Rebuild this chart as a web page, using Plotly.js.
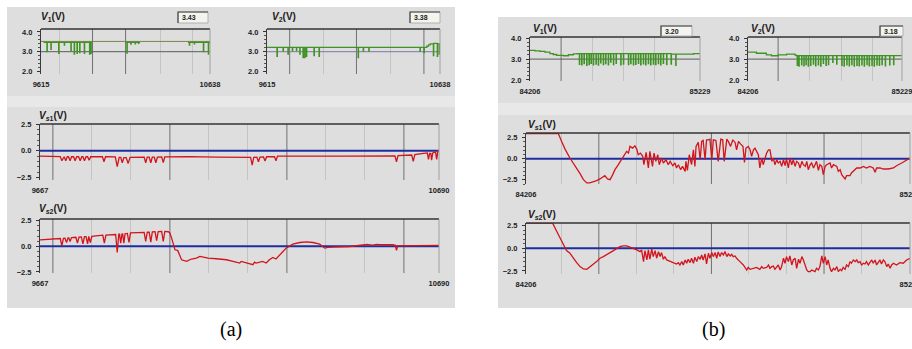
<!DOCTYPE html>
<html><head><meta charset="utf-8">
<script src="https://cdn.plot.ly/plotly-3.0.1.min.js"></script>
<style>html,body{margin:0;padding:0;background:#fff;}#chart{width:912px;height:349px;}</style>
</head><body><div id="chart"></div>
<script>
// ================= DATA =================
// axis end labels
const aTopTicks = [9615, 10638];
const aBigTicks = [9667, 10690];
const bTopTicks = [84206, 85229];
const bBigTicks = [84206, 85229];
const readouts = ['3.43', '3.38', '3.20', '3.18'];
const refLevel = [3.0, 3.0];
const v1aUpper = [3.52, 3.52];
const zeroLevel = [0, 0];

// (a) V1
const v1a_x = [9630,9651,9653,9675,9677,9722,9724,9756,9758,9796,9798,9816,9818,9833,9835,9849,9851,9877,9879,9909,9911,9917,9919,9925,9926,
  10125,10135,10137,10159,10161,10185,10187,10205,10207,10215,10216,
  10505,10513,10515,10543,10545,10598,10600,10628,10630,10638];
const v1a_y = [3.47,3.0,3.47,3.12,3.47,2.91,3.47,3.34,3.47,3.05,3.47,2.88,3.47,2.91,3.47,2.95,3.47,2.91,3.47,2.88,3.47,2.91,3.47,3.47,null,
  3.47,2.93,3.47,3.38,3.47,3.40,3.47,3.42,3.47,3.47,null,
  3.47,3.34,3.47,3.40,3.47,3.0,3.47,2.88,3.47,3.43];
// (a) V2
const v2a_x = [9615,9674,9676,9710,9712,9739,9741,9765,9767,9789,9791,9809,9811,9828,9830,9838,9840,9848,9850,9893,9895,9923,9925,
  10154,10156,10184,10186,10217,10219,10520,10522,10543,10545,10560,10570,10580,10599,10601,10622,10624,10634,10636,10638];
const v2a_y = [3.22,2.76,3.22,3.03,3.22,2.88,3.22,3.06,3.22,3.06,3.22,2.88,3.22,2.70,3.22,2.70,3.22,2.76,3.22,2.80,3.22,2.76,3.22,
  2.70,3.22,3.03,3.22,3.03,3.22,3.03,3.22,2.95,3.22,3.28,3.35,3.40,2.80,3.42,2.76,3.40,2.88,3.38,3.38];
// (a) Vs1
const vs1a_x = [9667,9690,9719,9723,9727,9729,9733,9737,9740,9744,9748,9753,9757,9761,9766,9770,9774,9777,9781,9785,9789,9793,9797,9827,9831,9835,
  9860,9865,9870,9874,9878,9882,9888,9893,9898,9934,9938,9942,9947,9951,9955,9960,9964,9968,9979,9983,9987,10050,10120,
  10207,10211,10215,10223,10227,10231,10240,10244,10248,10268,10272,10276,10350,10450,10577,10581,10585,10620,10624,10628,
  10650,10660,10663,10666,10669,10671,10674,10681,10684,10687,10690];
const vs1a_y = [-0.50,-0.52,-0.55,-0.94,-0.56,-0.56,-0.94,-0.56,-0.56,-0.94,-0.56,-0.56,-0.94,-0.56,-0.56,-0.94,-0.56,-0.56,-0.94,-0.56,-0.56,-0.90,-0.56,-0.55,-1.03,-0.56,
  -0.58,-1.50,-0.62,-0.62,-1.13,-0.64,-0.64,-1.19,-0.62,-0.60,-1.13,-0.60,-0.60,-1.13,-0.60,-0.60,-1.13,-0.60,-0.58,-1.10,-0.57,-0.55,-0.60,
  -0.62,-1.34,-0.62,-0.60,-1.03,-0.60,-0.58,-0.97,-0.56,-0.55,-0.94,-0.50,-0.52,-0.50,-0.48,-1.03,-0.45,-0.40,-1.00,-0.35,
  -0.25,-0.20,-0.81,-0.25,-0.25,-0.88,-0.20,-0.10,-0.81,-0.05,0.0];
// (a) Vs2
const vs2a_x = [9667,9700,9719,9723,9727,9731,9735,9739,9741,9744,9748,9759,9763,9767,9773,9777,9781,9785,9789,9792,9796,9800,9828,9832,9836,
  9861,9865,9869,9871,9874,9877,9879,9882,9885,9891,9895,9899,9934,9938,9942,9947,9951,9955,9962,9966,9970,9979,9983,9987,9996,
  10000,10006,10013,10020,10030,10043,10055,10068,10077,10089,10098,10119,10145,10162,10179,10183,10200,10213,10217,10221,10238,10247,
  10255,10264,10272,10281,10290,10298,10315,10333,10350,10367,10384,10397,10405,10418,10461,10500,10504,10520,10530,10538,10555,
  10572,10578,10581,10584,10589,10632,10690];
const vs2a_y = [0.63,0.70,0.76,0.05,0.78,0.80,0.37,0.82,0.82,0.47,0.85,0.88,0.31,0.90,0.92,0.24,0.94,0.95,0.24,0.96,0.37,0.98,1.08,0.31,1.10,
  1.15,-0.60,1.18,1.18,0.31,1.19,1.20,0.31,1.21,1.25,0.37,1.30,1.36,0.47,1.37,1.38,0.40,1.40,1.42,0.56,1.43,1.44,0.47,1.45,1.42,
  1.30,0.60,-0.34,-0.40,-1.31,-1.47,-1.24,-1.15,-0.98,-1.08,-1.15,-1.21,-1.31,-1.47,-1.63,-1.47,-1.63,-1.79,-1.55,-1.63,-1.47,-1.63,
  -1.31,-1.08,-1.24,-0.82,-0.50,-0.18,0.21,0.37,0.44,0.37,0.21,-0.18,-0.11,-0.08,-0.02,0.15,0.18,0.12,0.18,0.15,0.18,
  0.15,0.10,-0.40,0.05,0.05,0.05,0.10];

// (b) V1
const v1b_x = [84206,84236,84266,84296,84326,84346,84366,84407,84437,84467,84490,
  84503,84505,84517,84519,84531,84533,84547,84549,84561,84563,84573,84575,84587,84589,84603,84605,84617,84619,84631,84633,
  84647,84649,84661,84663,84677,84679,84691,84693,84708,84710,84724,84726,84752,84754,84768,84770,84798,84800,84812,84814,
  84828,84830,84842,84844,84858,84860,84872,84874,84888,84890,84902,84904,84918,84920,84932,84934,84948,84950,84962,84964,
  84978,84980,84992,84994,85008,85010,85028,85030,85055,85057,85083,85085,85149,85190,85229];
const v1b_y = [3.42,3.39,3.37,3.33,3.26,3.22,3.18,3.16,3.21,3.25,3.26,
  2.75,3.26,2.72,3.26,2.78,3.26,2.70,3.26,2.74,3.26,2.80,3.26,2.72,3.26,2.76,3.26,2.71,3.26,2.82,3.26,
  2.74,3.26,2.78,3.26,2.72,3.26,2.86,3.26,2.74,3.26,2.80,3.26,2.72,3.26,2.76,3.26,2.74,3.26,2.78,3.26,
  2.72,3.26,2.75,3.26,2.80,3.26,2.72,3.26,2.77,3.26,2.73,3.26,2.79,3.26,2.72,3.26,2.76,3.26,2.74,3.26,
  2.78,3.26,2.72,3.26,2.80,3.26,2.74,3.26,2.76,3.24,2.70,3.24,3.24,3.26,3.29];
// (b) V2
const v2b_x = [84206,84262,84328,84362,84406,84462,84517,84525,
  84533,84535,84544,84546,84562,84564,84577,84579,84591,84593,84606,84608,84622,84624,84640,84642,84655,84657,84673,84675,
  84689,84691,84706,84708,84724,84726,84740,84742,84769,84771,84795,84797,84829,84831,84844,84846,84862,84864,84878,84880,
  84895,84897,84911,84913,84929,84931,84944,84946,84962,84964,84978,84980,84996,84998,85011,85013,85029,85031,85044,85046,
  85062,85064,85078,85080,85096,85098,85118,85120,85147,85149,85173,85175,85196,85229];
const v2b_y = [3.33,3.28,3.20,3.16,3.20,3.24,3.20,3.17,
  2.70,3.17,2.66,3.17,2.72,3.17,2.68,3.17,2.74,3.17,2.66,3.17,2.70,3.17,2.76,3.17,2.68,3.17,2.72,3.17,
  2.66,3.17,2.80,3.17,2.70,3.17,2.74,3.17,2.84,3.17,2.76,3.17,2.70,3.17,2.66,3.17,2.72,3.17,2.68,3.17,
  2.74,3.17,2.66,3.17,2.70,3.17,2.68,3.17,2.72,3.17,2.66,3.17,2.74,3.17,2.68,3.17,2.70,3.17,2.66,3.17,
  2.72,3.17,2.70,3.17,2.74,3.17,2.68,3.17,2.72,3.17,2.74,3.17,3.17,3.20];
// (b) Vs1
const vs1b_x = [84206,84292,84301,84310,84323,84332,84341,84350,84359,84368,84376,84385,84394,84403,84412,84416,84423,84430,84437,84443,
  84452,84461,84467,84474,84479,84483,84490,84496,84501,84505,84511,84517,84520,84526,84532,84536,84543,84547,84552,84557,
  84561,84567,84572,84579,84585,84590,84597,84603,84607,84612,84618,84623,84630,84632,84636,84641,84647,84652,84656,84659,
  84665,84670,84674,84678,84683,84687,84692,84696,84701,84705,84712,84718,84725,84730,84734,84741,84745,84751,84757,84763,
  84767,84772,84778,84784,84788,84792,84798,84803,84807,84812,84816,84820,84825,84829,84834,84838,84843,84847,84852,84856,
  84861,84865,84869,84874,84878,84883,84887,84892,84896,84900,84905,84909,84914,84918,84923,84927,84932,84936,84941,84945,
  84950,84954,84958,84963,84967,84972,84976,84980,84985,84989,84994,84998,85003,85007,85016,85020,85025,85034,85038,85043,
  85047,85051,85056,85060,85069,85073,85078,85087,85096,85105,85113,85122,85131,85136,85140,85149,85158,85171,85185,85193,
  85207,85220,85229];
const vs1b_y = [2.99,2.99,2.05,1.14,0.08,-0.51,-1.10,-1.77,-2.48,-2.87,-2.87,-2.76,-2.60,-2.40,-2.17,-2.01,-2.40,-2.48,-1.89,-1.30,
  -0.71,-0.04,0.47,0.87,0.67,1.46,1.26,1.54,1.14,0.47,0.67,0.28,-0.71,0.75,-1.10,0.87,-0.91,0.67,-0.31,0.47,
  -0.71,0.08,-0.51,-0.12,-0.71,-0.31,-0.83,-0.51,-1.10,-0.71,-1.30,-0.91,-1.50,-0.31,-1.38,0.47,-0.71,1.06,-0.91,1.46,
  1.93,-0.12,2.05,2.17,-0.12,2.24,2.24,2.32,-0.12,2.24,2.17,-0.31,2.32,2.24,-0.31,2.32,2.05,1.46,2.24,1.93,
  1.06,2.05,1.73,1.46,-0.43,1.26,1.46,1.06,0.28,1.06,1.26,0.87,0.47,-1.10,0.08,-0.71,0.28,0.67,1.06,1.06,
  -0.31,0.08,-0.71,-0.12,-0.51,-0.31,-0.91,-0.12,-0.83,-0.04,-1.10,0.08,-0.71,-0.12,-0.91,-0.31,-0.51,-1.10,-0.31,-0.71,
  -0.91,-0.31,-1.30,-0.71,-0.51,-1.10,-0.71,-0.31,-1.38,-0.71,-0.91,-1.89,-0.91,-0.71,-0.51,-1.10,-0.71,-0.91,-1.50,-1.30,
  -1.89,-2.09,-2.40,-2.01,-2.01,-1.69,-1.50,-1.10,-1.10,-0.91,-1.10,-0.91,-1.10,-1.61,-1.10,-1.10,-1.22,-1.22,-1.10,-0.83,
  -0.51,-0.12,0.08];
// (b) Vs2
const vs2b_x = [84206,84277,84288,84297,84305,84314,84323,84332,84341,84350,84359,84368,84376,84385,84394,84403,84412,84421,84430,84439,
  84448,84456,84465,84474,84483,84492,84501,84510,84514,84519,84523,84528,84532,84536,84541,84545,84550,84554,84559,84563,
  84567,84572,84576,84581,84590,84599,84607,84612,84616,84621,84625,84630,84634,84638,84643,84647,84652,84656,84661,84665,
  84670,84674,84678,84683,84687,84692,84696,84701,84705,84710,84714,84718,84723,84727,84732,84736,84741,84745,84750,84754,
  84758,84763,84767,84776,84785,84794,84798,84803,84812,84820,84829,84834,84838,84847,84852,84856,84861,84865,84869,84874,
  84878,84883,84887,84892,84896,84900,84905,84909,84914,84918,84923,84927,84932,84936,84941,84945,84950,84954,84958,84963,
  84967,84972,84976,84980,84985,84989,84994,84998,85003,85007,85011,85016,85020,85025,85029,85034,85038,85043,85047,85051,
  85056,85060,85065,85069,85073,85078,85083,85087,85091,85096,85100,85105,85109,85113,85118,85122,85127,85131,85136,85140,
  85145,85149,85153,85158,85162,85167,85171,85176,85180,85185,85193,85202,85211,85220,85229];
const vs2b_y = [2.76,2.76,1.84,1.10,0.37,-0.26,-0.55,-1.10,-1.58,-2.02,-2.28,-2.32,-2.02,-1.76,-1.47,-1.10,-0.92,-0.66,-0.48,-0.26,
  0.0,0.18,0.26,0.26,0.11,0.0,-0.18,-0.37,-0.18,-1.47,-0.26,-1.29,-0.18,-1.21,-0.11,-0.92,-0.26,-1.10,-0.37,-0.92,
  -0.48,-1.21,-0.92,-1.29,-1.47,-1.58,-1.73,-1.58,-1.84,-1.47,-1.84,-1.29,-1.65,-1.21,-1.58,-1.10,-1.65,-0.99,-1.47,-0.92,
  -1.21,-0.74,-1.29,-0.63,-1.73,-0.55,-1.10,-0.48,-0.92,-0.48,-1.10,-0.40,-0.92,-0.48,-0.74,-0.37,-0.92,-0.63,-0.85,-0.66,
  -0.92,-0.85,-1.10,-1.47,-1.84,-2.39,-2.10,-2.32,-2.21,-2.10,-2.32,-2.02,-2.21,-2.10,-1.84,-2.21,-2.02,-1.95,-2.32,-2.02,
  -1.84,-2.39,-2.02,-1.10,-1.65,-0.92,-1.47,-0.85,-1.84,-1.29,-1.10,-2.21,-1.21,-1.65,-0.92,-1.29,-2.02,-2.39,-2.57,-2.57,
  -2.39,-2.50,-2.57,-2.21,-2.39,-2.02,-0.85,-1.65,-0.92,-1.84,-1.29,-2.21,-2.57,-2.21,-2.39,-2.02,-2.57,-2.32,-2.46,-2.10,
  -2.32,-1.84,-2.02,-1.47,-1.65,-1.29,-1.47,-1.29,-1.58,-1.47,-1.84,-1.65,-1.73,-1.47,-1.84,-1.58,-1.29,-1.65,-1.29,-1.84,
  -1.58,-1.29,-1.73,-1.29,-1.47,-2.02,-1.73,-2.21,-1.84,-1.65,-1.84,-1.58,-1.65,-1.29,-1.10];

// ================= LAYOUT =================
const W = 912, H = 349;
const FONT = 'Liberation Sans, Arial, sans-serif';
const GREEN = '#3f9323', RED = '#d3141c', BLUE = '#1d2ea0';

const charts = [
  {px:[41,210], py:[29,74], xr:aTopTicks, yr:[1.87,4.15], ytv:[2,3,4], ymin:0.2, dark:[9927,10127], light:[9728,10336,10533],
   title:'<b><i>V</i><sub>1</sub>(V)</b>', tp:[39,17], box:[178,208,12,23], val:readouts[0]},
  {px:[267,440], py:[29,74], xr:aTopTicks, yr:[1.87,4.15], ytv:[2,3,4], ymin:0.2, dark:[9749,10144,10543], light:[9951,10346],
   title:'<b><i>V</i><sub>2</sub>(V)</b>', tp:[270,17], box:[410,440,12,23], val:readouts[1]},
  {px:[40,439], py:[124,180], xr:aBigTicks, yr:[-2.75,2.52], ytv:[-2.5,0,2.5], ymin:0.5, dark:[9700,10000,10300,10600], light:[9800,9900,10100,10200,10400,10500],
   title:'<b><i>V</i><sub><i>s</i>1</sub>(V)</b>', tp:[37,116]},
  {px:[40,439], py:[219,273], xr:aBigTicks, yr:[-2.6,2.66], ytv:[-2.5,0,2.5], ymin:0.5, dark:[9700,10000,10300,10600], light:[9800,9900,10100,10200,10400,10500],
   title:'<b><i>V</i><sub><i>s</i>2</sub>(V)</b>', tp:[37,209]},
  {px:[530,700], py:[37,81], xr:bTopTicks, yr:[1.95,4.06], ytv:[2,3,4], ymin:0.2, dark:[84393], light:[84581,84768,84958],
   title:'<b><i>V</i><sub>1</sub>(V)</b>', tp:[531,29], box:[661,692,26,36], val:readouts[2]},
  {px:[748,902], py:[37,81], xr:bTopTicks, yr:[1.95,4.06], ytv:[2,3,4], ymin:0.2, dark:[84406], light:[84617,84828,85035],
   title:'<b><i>V</i><sub>2</sub>(V)</b>', tp:[749,29], box:[880,903,26,36], val:readouts[3]},
  {px:[526,910], py:[133,184], xr:bBigTicks, yr:[-3.0,3.05], ytv:[-2.5,0,2.5], ymin:0.5, dark:[84400,84700,85000], light:[84300,84500,84600,84800,84900,85100],
   title:'<b><i>V</i><sub><i>s</i>1</sub>(V)</b>', tp:[526,125]},
  {px:[526,910], py:[223,274], xr:bBigTicks, yr:[-2.83,2.77], ytv:[-2.5,0,2.5], ymin:0.5, dark:[84400,84700,85000], light:[84300,84500,84600,84800,84900,85100],
   title:'<b><i>V</i><sub><i>s</i>2</sub>(V)</b>', tp:[526,215]}
];

const tickfont = {family: FONT, size: 7.5, weight: 'bold', color: '#222'};
const layout = {
  width: W, height: H, margin: {l:0, r:0, t:0, b:0},
  paper_bgcolor: '#ffffff', plot_bgcolor: '#ececec', showlegend: false,
  shapes: [], annotations: []
};
const px2x = p => p / W, py2y = p => 1 - p / H;

// panel backgrounds
[[7,455,7,308,'#dedede'],[7,455,96,107,'#e8e8e8'],[498,912,17,308,'#dedede'],[498,912,103,115,'#e8e8e8']].forEach(r => {
  layout.shapes.push({type:'rect', xref:'paper', yref:'paper', layer:'below', x0:px2x(r[0]), x1:px2x(r[1]), y0:py2y(r[3]), y1:py2y(r[2]), fillcolor:r[4], line:{width:0}});
});

charts.forEach((c, i) => {
  const k = i === 0 ? '' : String(i + 1);
  layout['xaxis' + k] = {
    domain: [px2x(c.px[0]), px2x(c.px[1])], anchor: 'y' + k, range: [c.xr[0], c.xr[1]],
    tickmode: 'array', tickvals: [c.xr[0], c.xr[1]], ticktext: [String(c.xr[0]), String(c.xr[1])],
    showgrid: false,
    minor: {tickmode: 'array', tickvals: c.light, showgrid: true, gridcolor: '#c4c4c4', gridwidth: 1, ticks: ''},
    ticks: '', showline: false, zeroline: false, tickfont: tickfont, ticklabeloverflow: 'allow',
    ticklabelstandoff: 4, fixedrange: true
  };
  layout['yaxis' + k] = {
    domain: [py2y(c.py[1]), py2y(c.py[0])], anchor: 'x' + k, range: c.yr,
    tickmode: 'array', tickvals: c.ytv, tickformat: '.1f', ticks: 'outside', ticklen: 3, tickcolor: '#333',
    minor: {tickmode: 'linear', tick0: 0, dtick: c.ymin, ticks: 'outside', ticklen: 2, tickcolor: '#555', showgrid: false},
    showgrid: false, zeroline: false, showline: true, linecolor: '#3a3a3a', linewidth: 1,
    tickfont: tickfont, ticklabelstandoff: 3, fixedrange: true
  };
  const xd = 'x' + k + ' domain', yd = 'y' + k + ' domain';
  // darker vertical grid lines
  c.dark.forEach(v => layout.shapes.push({type:'line', xref:'x' + k, yref: yd, layer:'below', x0:v, x1:v, y0:0, y1:1, line:{color:'#707070', width:1}}));
  layout.shapes.push({type:'line', xref: xd, yref: yd, x0:0, x1:1, y0:1, y1:1, line:{color:'#333', width:1.5}});
  layout.shapes.push({type:'line', xref: xd, yref: yd, x0:1, x1:1, y0:0, y1:1, line:{color:'#a0a0a0', width:1}});
  layout.annotations.push({xref:'paper', yref:'paper', x:px2x(c.tp[0]), y:py2y(c.tp[1]), xanchor:'left', yanchor:'middle',
    text: c.title, showarrow:false, font:{family: FONT, size: 10, color:'#222'}});
  if (c.box) {
    const b = c.box;
    layout.shapes.push({type:'rect', xref:'paper', yref:'paper', x0:px2x(b[0]), x1:px2x(b[1]), y0:py2y(b[3]), y1:py2y(b[2]),
      fillcolor:'#f4f4ef', line:{color:'#b0b0b0', width:1}});
    layout.shapes.push({type:'path', xref:'paper', yref:'paper',
      path: 'M ' + px2x(b[0]) + ' ' + py2y(b[3]) + ' L ' + px2x(b[0]) + ' ' + py2y(b[2]) + ' L ' + px2x(b[1]) + ' ' + py2y(b[2]),
      line:{color:'#444', width:1.2}});
    layout.annotations.push({xref:'paper', yref:'paper', x:px2x(b[0] + 2), y:py2y((b[2] + b[3]) / 2), xanchor:'left', yanchor:'middle',
      text: c.val, showarrow:false, font:{family: FONT, size: 7, weight:'bold', color:'#222'}});
  }
});

layout.annotations.push({xref:'paper', yref:'paper', x:px2x(231), y:py2y(329), xanchor:'center', yanchor:'middle', text:'(a)', showarrow:false,
  font:{family:'Liberation Serif, Times New Roman, serif', size:20, color:'#000'}});
layout.annotations.push({xref:'paper', yref:'paper', x:px2x(713), y:py2y(329), xanchor:'center', yanchor:'middle', text:'(b)', showarrow:false,
  font:{family:'Liberation Serif, Times New Roman, serif', size:20, color:'#000'}});

// ================= TRACES =================
const ln = (x, y, ax, color, width, shape) => ({type:'scatter', mode:'lines', x:x, y:y, xaxis:'x' + ax, yaxis:'y' + ax,
  line:{color:color, width:width, shape: shape || 'linear'}, connectgaps:false, hoverinfo:'skip'});
const traces = [
  ln(aTopTicks, refLevel, '', '#5a5a5a', 1),
  ln(aTopTicks, v1aUpper, '', '#7f8250', 1),
  ln(v1a_x, v1a_y, '', GREEN, 1.3, 'hv'),
  ln(aTopTicks, refLevel, '2', '#7d76aa', 1),
  ln(v2a_x, v2a_y, '2', GREEN, 1.3, 'hv'),
  ln(aBigTicks, zeroLevel, '3', BLUE, 2),
  ln(vs1a_x, vs1a_y, '3', RED, 1.3),
  ln(aBigTicks, zeroLevel, '4', BLUE, 2),
  ln(vs2a_x, vs2a_y, '4', RED, 1.3),
  ln(bTopTicks, refLevel, '5', '#5a5a5a', 1),
  ln(v1b_x, v1b_y, '5', GREEN, 1.3, 'hv'),
  ln(bTopTicks, refLevel, '6', '#5a5a5a', 1),
  ln(v2b_x, v2b_y, '6', GREEN, 1.3, 'hv'),
  ln(bBigTicks, zeroLevel, '7', BLUE, 2),
  ln(vs1b_x, vs1b_y, '7', RED, 1.3),
  ln(bBigTicks, zeroLevel, '8', BLUE, 2),
  ln(vs2b_x, vs2b_y, '8', RED, 1.3)
];
traces[0].xaxis = 'x'; traces[0].yaxis = 'y';
traces[1].xaxis = 'x'; traces[1].yaxis = 'y';
traces[2].xaxis = 'x'; traces[2].yaxis = 'y';

Plotly.newPlot('chart', traces, layout, {displayModeBar:false, staticPlot:true});
</script></body></html>
